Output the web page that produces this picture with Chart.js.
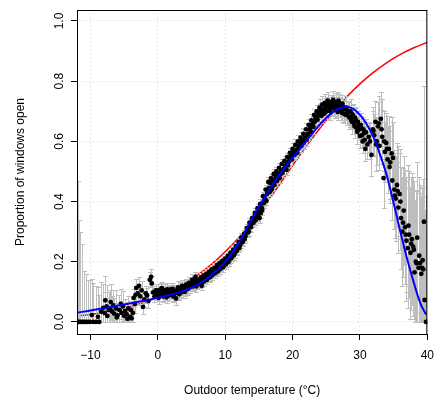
<!DOCTYPE html>
<html><head><meta charset="utf-8">
<script src="https://cdn.jsdelivr.net/npm/chart.js@4/dist/chart.umd.min.js"></script>
<style>html,body{margin:0;padding:0;background:#fff}</style>
</head><body>
<canvas id="c" width="442" height="404"></canvas>
<script>
// ---- data ----
const xTicks = [-10, 0, 10, 20, 30, 40];
const yTicks = [0, 0.2, 0.4, 0.6, 0.8, 1.0];

const temp = [
-11.9,-11.7,-11.5,-11.2,-11.0,-10.7,-10.4,-10.1,-9.8,-9.6,-9.2,-8.9,-8.7,-8.4,-8.1,-7.8,-7.6,-7.3,-7.0,-6.8,-6.5,-6.2,-6.0,-5.7,-5.4,-5.2,-4.9,-4.6,-4.4,-4.1,-3.9,-3.7,-3.4,
-3.2,-3.0,-2.8,-2.6,-2.4,-2.2,-2.0,-1.8,-1.6,-1.4,-1.2,-1.0,-0.9,-0.7,-0.5,-0.3,-0.1,0.1,0.3,0.5,0.7,0.9,1.1,1.3,1.5,1.7,1.9,2.1,2.3,2.5,2.7,2.9,3.1,3.3,3.5,3.7,3.9,4.1,4.3,4.5,4.7,4.9,5.1,5.3,5.5,5.7,5.9,
6.1,6.3,6.5,6.7,6.9,7.1,7.3,7.5,7.7,7.9,8.1,8.3,8.5,8.7,8.9,9.1,9.3,9.5,9.7,9.9,10.1,10.3,10.5,10.7,10.9,11.1,11.3,11.5,11.7,11.9,12.1,12.3,12.5,12.7,12.9,13.1,13.3,13.5,13.7,13.9,14.1,14.3,14.5,14.7,14.9,
15.1,15.3,15.5,15.7,15.9,16.1,16.3,16.5,16.7,16.9,17.1,17.3,17.5,17.7,17.9,18.1,18.3,18.5,18.7,18.9,19.1,19.3,19.5,19.7,19.9,20.1,20.3,20.5,20.7,20.9,21.1,21.3,21.5,21.7,21.9,22.1,22.3,22.5,22.7,22.9,23.1,23.3,23.5,23.7,23.9,
24.1,24.3,24.5,24.7,24.9,25.1,25.3,25.5,25.7,25.9,26.1,26.3,26.5,26.7,26.9,27.1,27.3,27.5,27.7,27.9,28.1,28.3,28.5,28.7,28.9,29.1,29.3,29.5,29.7,29.9,30.1,30.3,30.5,30.7,30.9,31.1,31.3,
31.5,31.7,31.9,32.1,32.3,32.5,32.7,32.9,33.1,33.3,33.5,33.7,33.9,34.1,34.3,34.5,34.7,34.9,35.1,35.3,35.5,35.7,35.9,36.1,36.3,36.5,36.7,36.9,37.1,37.3,37.5,37.7,37.9,38.1,38.3,38.5,38.7,38.9,39.1,39.3,39.5,39.6,39.8,
0.0,0.2,0.4,0.6,0.8,1.0,1.2,1.4,1.6,1.8,2.0,2.2,2.4,2.6,2.8,3.0,3.2,3.4,3.6,3.8,4.0,4.2,4.4,4.6,4.8,
5.0,5.2,5.4,5.6,5.8,6.0,6.2,6.4,6.6,6.8,7.0,7.2,7.4,7.6,7.8,8.0,8.2,8.4,8.6,8.8,9.0,9.2,9.4,9.6,9.8,
10.0,10.2,10.4,10.6,10.8,11.0,11.2,11.4,11.6,11.8,12.0,12.2,12.4,12.6,12.8,13.0,13.2,13.4,13.6,13.8,14.0,14.2,14.4,14.6,14.8,
15.0,15.2,15.4,15.6,15.8,16.0,16.2,16.4,16.6,16.8,17.0,17.2,17.4,17.6,17.8,18.0,18.2,18.4,18.6,18.8,19.0,19.2,19.4,19.6,19.8,
20.0,20.2,20.4,20.6,20.8,21.0,21.2,21.4,21.6,21.8,22.0,22.2,22.4,22.6,22.8,23.0,23.2,23.4,23.6,23.8,
24.0,24.2,24.4,24.6,24.8,25.0,25.2,25.4,25.6,25.8,26.0,26.2,26.4,26.6,26.8,27.0,27.2,27.4,27.6,27.8,
28.0,28.2,28.4,28.6,28.8,29.0,29.2,29.4,29.6,29.8,30.0,30.2,30.4,30.6,30.8,
32.0,32.4,32.8,33.2,33.6,34.0,34.4,34.8,35.2,35.6,36.0,36.4,36.8,37.2,37.6,38.0,38.4,38.8,39.2,39.4,
-7.9,-7.5,-7.1,-6.6,-6.1,-5.5,-5.0,-4.5,-4.0,-3.6,-3.3
];
const prop = [
0,0,0,0,0,0,0,0,0.023,0,0,0.017,0,0.034,0.047,0.072,0.052,0.040,0.066,0.035,0.028,0.045,0.022,0.040,0.030,0.052,0.036,0.025,0.045,0.017,0.012,0.030,0.060,
0.113,0.095,0.120,0.085,0.105,0.050,0.075,0.095,0.088,0.070,0.140,0.150,0.128,0.098,0.085,0.105,0.092,0.080,0.100,0.110,0.088,0.095,0.105,0.082,0.098,0.090,0.108,0.100,0.085,0.095,0.078,0.102,0.096,0.108,0.112,0.100,0.118,0.105,0.115,0.110,0.128,0.122,0.140,0.125,0.145,0.118,0.132,
0.128,0.138,0.120,0.145,0.135,0.150,0.140,0.158,0.148,0.165,0.155,0.170,0.162,0.178,0.168,0.185,0.176,0.190,0.182,0.198,0.192,0.208,0.200,0.218,0.212,0.228,0.222,0.240,0.236,0.252,0.246,0.262,0.270,0.282,0.276,0.296,0.305,0.300,0.318,0.326,0.332,0.342,0.338,0.355,0.350,
0.345,0.362,0.372,0.395,0.410,0.402,0.428,0.445,0.462,0.440,0.470,0.455,0.482,0.468,0.490,0.478,0.500,0.495,0.508,0.515,0.505,0.520,0.535,0.548,0.540,0.560,0.555,0.570,0.562,0.578,0.590,0.585,0.600,0.596,0.612,0.605,0.625,0.640,0.632,0.655,0.648,0.665,0.680,0.672,0.690,
0.700,0.685,0.705,0.692,0.715,0.700,0.722,0.708,0.730,0.712,0.725,0.705,0.720,0.698,0.728,0.710,0.695,0.715,0.690,0.705,0.688,0.700,0.680,0.672,0.690,0.660,0.678,0.645,0.665,0.640,0.655,0.620,0.640,0.605,0.630,0.590,0.615,
0.600,0.555,0.640,0.620,0.665,0.600,0.650,0.585,0.675,0.615,0.478,0.565,0.595,0.540,0.575,0.530,0.560,0.545,0.440,0.410,0.455,0.380,0.425,0.345,0.300,0.370,0.315,0.270,0.245,0.290,0.230,0.275,0.250,0.165,0.200,0.280,0.180,0.195,0.160,0.205,0.333,0.073,0.000,
0.105,0.090,0.098,0.112,0.085,0.100,0.094,0.108,0.088,0.102,0.096,0.110,0.090,0.104,0.098,0.115,0.092,0.104,0.120,0.108,0.100,0.124,0.112,0.130,0.116,
0.128,0.118,0.135,0.150,0.126,0.140,0.130,0.148,0.132,0.155,0.142,0.160,0.148,0.166,0.152,0.175,0.160,0.180,0.172,0.190,0.176,0.195,0.184,0.204,0.190,
0.210,0.198,0.220,0.206,0.230,0.218,0.240,0.228,0.252,0.242,0.265,0.255,0.280,0.266,0.292,0.285,0.312,0.298,0.330,0.315,0.345,0.330,0.362,0.348,0.378,
0.365,0.392,0.380,0.418,0.400,0.440,0.425,0.465,0.432,0.478,0.450,0.492,0.470,0.500,0.482,0.512,0.492,0.525,0.505,0.535,0.520,0.548,0.530,0.562,0.550,
0.575,0.562,0.588,0.572,0.600,0.585,0.612,0.598,0.625,0.610,0.640,0.622,0.655,0.642,0.670,0.660,0.688,0.675,0.700,0.685,
0.712,0.698,0.722,0.705,0.728,0.715,0.735,0.718,0.700,0.725,0.738,0.715,0.730,0.712,0.735,0.718,0.700,0.725,0.708,0.690,
0.712,0.695,0.680,0.700,0.665,0.685,0.650,0.670,0.632,0.655,0.618,0.645,0.600,0.628,0.575,
0.635,0.590,0.660,0.640,0.600,0.575,0.515,0.470,0.420,0.435,0.400,0.330,0.290,0.320,0.260,0.240,0.195,0.220,0.180,0.175,
0.030,0.020,0.045,0.055,0.015,0.060,0.020,0.010,0.040,0.080,0.090
];
const err = [
0.47,0.34,0.30,0.26,0.17,0.16,0.14,0.14,0.12,0.13,0.12,0.10,0.09,0.10,0.08,0.08,0.07,0.06,0.06,0.05,0.05,0.06,0.04,0.05,0.04,0.05,0.04,0.04,0.04,0.03,0.03,0.03,0.03,
0.03,0.03,0.03,0.03,0.03,0.025,0.025,0.025,0.025,0.025,0.025,0.025,0.025,0.02,0.02,0.02,0.02,0.02,0.02,0.02,0.02,0.02,0.02,0.02,0.02,0.02,0.02,0.02,0.02,0.02,0.02,0.02,0.02,0.02,0.02,0.02,0.02,0.02,0.02,0.02,0.02,0.02,0.02,0.02,0.02,0.02,0.02,
0.015,0.015,0.015,0.015,0.015,0.015,0.015,0.015,0.015,0.015,0.015,0.015,0.015,0.015,0.015,0.015,0.015,0.015,0.015,0.015,0.015,0.015,0.015,0.015,0.015,0.015,0.015,0.015,0.015,0.015,0.015,0.015,0.015,0.015,0.015,0.015,0.015,0.015,0.015,0.015,0.015,0.015,0.015,0.015,0.015,
0.015,0.015,0.015,0.015,0.015,0.015,0.015,0.015,0.015,0.015,0.015,0.015,0.015,0.015,0.015,0.015,0.015,0.015,0.015,0.015,0.018,0.018,0.018,0.018,0.018,0.018,0.018,0.018,0.018,0.018,0.02,0.02,0.02,0.02,0.02,0.02,0.02,0.02,0.02,0.02,0.022,0.022,0.022,0.022,0.022,
0.025,0.025,0.025,0.025,0.025,0.025,0.025,0.025,0.025,0.025,0.028,0.028,0.028,0.028,0.028,0.03,0.03,0.03,0.03,0.03,0.032,0.032,0.032,0.032,0.032,0.035,0.035,0.035,0.035,0.035,0.04,0.04,0.04,0.045,0.045,0.05,0.05,
0.06,0.07,0.06,0.07,0.07,0.08,0.08,0.08,0.09,0.09,0.10,0.10,0.10,0.11,0.11,0.12,0.12,0.12,0.13,0.14,0.14,0.15,0.15,0.17,0.18,0.18,0.19,0.20,0.20,0.21,0.22,0.22,0.23,0.24,0.24,0.25,0.25,0.26,0.26,0.27,0.45,0.30,0.42,
0.02,0.02,0.02,0.02,0.02,0.02,0.02,0.02,0.02,0.02,0.02,0.02,0.02,0.02,0.02,0.02,0.02,0.02,0.02,0.02,0.02,0.02,0.02,0.02,0.02,
0.015,0.015,0.015,0.015,0.015,0.015,0.015,0.015,0.015,0.015,0.015,0.015,0.015,0.015,0.015,0.015,0.015,0.015,0.015,0.015,0.015,0.015,0.015,0.015,0.015,
0.015,0.015,0.015,0.015,0.015,0.015,0.015,0.015,0.015,0.015,0.015,0.015,0.015,0.015,0.015,0.015,0.015,0.015,0.015,0.015,0.015,0.015,0.015,0.015,0.015,
0.015,0.015,0.015,0.015,0.015,0.015,0.015,0.015,0.015,0.015,0.015,0.015,0.015,0.015,0.015,0.015,0.015,0.015,0.015,0.015,0.015,0.015,0.015,0.015,0.015,
0.02,0.02,0.02,0.02,0.02,0.02,0.02,0.02,0.02,0.02,0.02,0.02,0.02,0.02,0.02,0.02,0.02,0.02,0.02,0.02,
0.03,0.03,0.03,0.03,0.03,0.03,0.03,0.03,0.03,0.03,0.03,0.03,0.03,0.03,0.03,0.03,0.03,0.03,0.03,0.03,
0.04,0.04,0.04,0.04,0.04,0.04,0.04,0.04,0.04,0.04,0.04,0.04,0.04,0.04,0.04,
0.08,0.09,0.09,0.10,0.10,0.11,0.12,0.13,0.14,0.15,0.16,0.18,0.19,0.20,0.22,0.23,0.24,0.26,0.27,0.27,
0.07,0.06,0.06,0.05,0.04,0.05,0.04,0.03,0.03,0.03,0.03
];

const redX = [-12,-10,-8,-6,-4,-2,0,2,4,6,8,10,12,14,16,18,20,22,24,26,28,30,32,34,36,38,40];
const redY = [0.020,0.025,0.032,0.041,0.052,0.065,0.082,0.102,0.127,0.157,0.192,0.233,0.280,0.334,0.393,0.455,0.520,0.583,0.642,0.697,0.747,0.791,0.829,0.862,0.889,0.911,0.929];

const blueX = [-12,-10,-8,-6,-4,-2,0,2,4,6,8,10,12,14,16,18,20,22,24,25,26,27,28,29,30,31,32,33,34,35,36,37,38,39,39.8];
const blueY = [0.031,0.038,0.046,0.054,0.062,0.071,0.080,0.091,0.105,0.125,0.157,0.200,0.262,0.345,0.420,0.488,0.545,0.600,0.655,0.678,0.697,0.710,0.715,0.708,0.688,0.657,0.615,0.555,0.485,0.395,0.300,0.210,0.130,0.060,0.025];

// ---- chart ----
const FONT = '"Liberation Sans", Arial, Helvetica, sans-serif';

const rStyle = {
  id: 'rStyle',
  afterDatasetDraw(chart, args) {
    if (args.index !== 2) return; // after the red curve, before points
    const ctx = chart.ctx, xs = chart.scales.x, ys = chart.scales.y, a = chart.chartArea;
    ctx.save();
    ctx.beginPath(); ctx.rect(a.left, a.top, a.right - a.left, a.bottom - a.top); ctx.clip();
    ctx.strokeStyle = '#bebebe'; ctx.lineWidth = 1;
    ctx.beginPath();
    for (let i = 0; i < temp.length; i++) {
      const x = Math.round(xs.getPixelForValue(temp[i])) + 0.5;
      const lo = Math.max(0, prop[i] - err[i]), hi = Math.min(1, prop[i] + err[i]);
      const y1 = Math.round(ys.getPixelForValue(lo)) + 0.5, y2 = Math.round(ys.getPixelForValue(hi)) + 0.5;
      ctx.moveTo(x, y1); ctx.lineTo(x, y2);
      ctx.moveTo(x - 2.5, y1); ctx.lineTo(x + 2.5, y1);
      ctx.moveTo(x - 2.5, y2); ctx.lineTo(x + 2.5, y2);
    }
    ctx.stroke();
    ctx.restore();
  },
  afterDraw(chart) {
    const ctx = chart.ctx, ys = chart.scales.y, a = chart.chartArea;
    ctx.save();
    ctx.strokeStyle = '#000'; ctx.lineWidth = 1;
    ctx.strokeRect(a.left + 0.5, a.top + 0.5, a.right - a.left - 1, a.bottom - a.top);
    ctx.fillStyle = '#000';
    ctx.font = '12px ' + FONT;
    ctx.textAlign = 'center'; ctx.textBaseline = 'alphabetic';
    yTicks.forEach(v => {
      const y = ys.getPixelForValue(v);
      ctx.save(); ctx.translate(63, y); ctx.rotate(-Math.PI / 2);
      ctx.fillText(v.toFixed(1), 0, 0); ctx.restore();
    });
    ctx.restore();
  }
};

new Chart(document.getElementById('c'), {
  type: 'scatter',
  data: {
    datasets: [
      { type: 'line', label: 'blue', data: blueX.map((x, i) => ({x, y: blueY[i]})),
        borderColor: '#0000ff', borderWidth: 2, pointRadius: 0, tension: 0.4, fill: false, order: 0 },
      { label: 'obs', data: temp.map((x, i) => ({x, y: prop[i]})),
        backgroundColor: '#000', borderColor: '#000', pointRadius: 2.4, borderWidth: 0, order: 1 },
      { type: 'line', label: 'red', data: redX.map((x, i) => ({x, y: redY[i]})),
        borderColor: '#ff0000', borderWidth: 1.5, pointRadius: 0, cubicInterpolationMode: 'monotone', fill: false, order: 2 }
    ]
  },
  options: {
    responsive: false, animation: false, devicePixelRatio: 1,
    layout: { padding: { top: 10, right: 5, left: 0, bottom: 0 } },
    plugins: { legend: { display: false }, tooltip: { enabled: false } },
    scales: {
      x: {
        type: 'linear', min: -12, max: 40,
        afterBuildTicks: s => { s.ticks = xTicks.map(v => ({value: v})); },
        afterFit: s => { s.height = 70; },
        grid: { color: '#d3d3d3', lineWidth: 1, tickLength: 6, tickColor: '#000', tickWidth: 1, drawTicks: true },
        border: { display: false, dash: [1, 3] },
        ticks: { color: '#000', font: { family: FONT, size: 12 }, padding: 8, maxRotation: 0,
          callback: v => (v < 0 ? '\u2212' + Math.abs(v) : String(v)) },
        title: { display: true, text: 'Outdoor temperature (°C)', color: '#000',
          font: { family: FONT, size: 12 }, padding: { top: 0, bottom: 6 } }
      },
      y: {
        type: 'linear', min: -0.04, max: 1.0365,
        afterBuildTicks: s => { s.ticks = yTicks.map(v => ({value: v})); },
        afterFit: s => { s.width = 77; },
        grid: { color: '#d3d3d3', lineWidth: 1, tickLength: 6, tickColor: '#000', tickWidth: 1, drawTicks: true },
        border: { display: false, dash: [1, 3] },
        ticks: { display: false },
        title: { display: true, text: 'Proportion of windows open', color: '#000',
          font: { family: FONT, size: 12 }, padding: { top: 13, bottom: 0 } }
      }
    }
  },
  plugins: [rStyle]
});
</script>
</body></html>
